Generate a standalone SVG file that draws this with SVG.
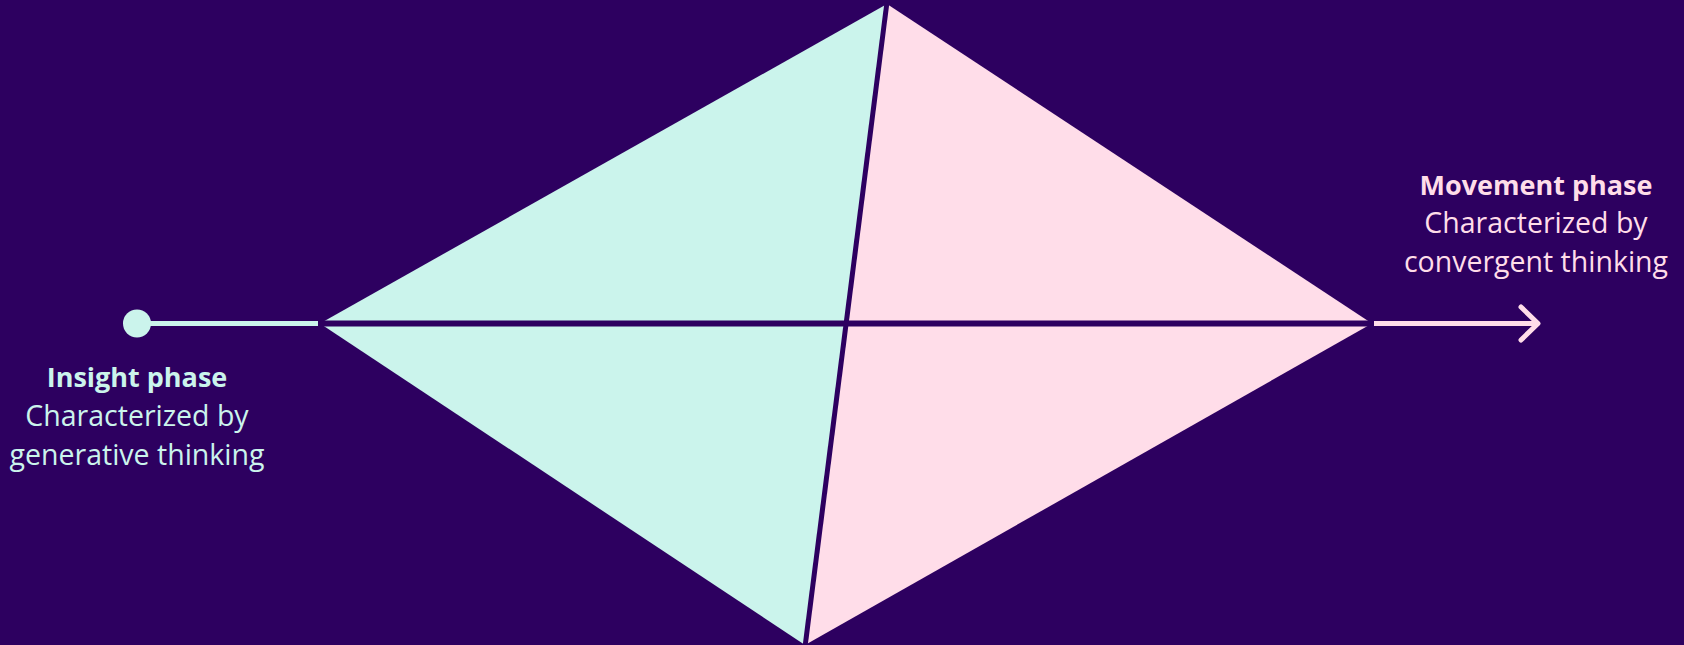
<svg xmlns="http://www.w3.org/2000/svg" width="1684" height="645" viewBox="0 0 1684 645">
<style>
.lbl{font-family:"Open Sans","Liberation Sans",sans-serif;font-size:28.5px;text-anchor:middle}
.b{font-weight:700;font-size:27px}
.mint{fill:#cbf4ec}
.pink{fill:#ffdde9}
</style>
<rect width="1684" height="645" fill="#2d0060"/>
<g id="diamond">
<polygon class="mint" points="320,323.5 887,4 805,645"/>
<polygon class="pink" points="887,4 1372,323.5 805,645"/>
<line x1="887" y1="2" x2="805" y2="647" stroke="#2d0060" stroke-width="5"/>
</g>
<g id="connectors" fill="none" stroke-width="5">
<line x1="320" y1="323.5" x2="1372" y2="323.5" stroke="#2d0060" stroke-width="6"/>
<line x1="140" y1="323.5" x2="318" y2="323.5" stroke="#cbf4ec"/>
<line x1="1374" y1="323.5" x2="1536" y2="323.5" stroke="#ffdde9"/>
<polyline points="1521,307 1538,323.5 1521,340" stroke="#ffdde9" stroke-linecap="round" stroke-linejoin="round"/>
</g>
<g id="insight">
<circle class="mint" cx="137" cy="323.5" r="14"/>
<text class="lbl mint" x="137" y="387"><tspan class="b">Insight phase</tspan><tspan x="137" y="426">Characterized by</tspan><tspan x="137" y="465">generative thinking</tspan></text>
</g>
<g id="movement">
<text class="lbl pink" x="1536" y="195"><tspan class="b">Movement phase</tspan><tspan x="1536" y="233">Characterized by</tspan><tspan x="1536" y="272">convergent thinking</tspan></text>
</g>
</svg>
